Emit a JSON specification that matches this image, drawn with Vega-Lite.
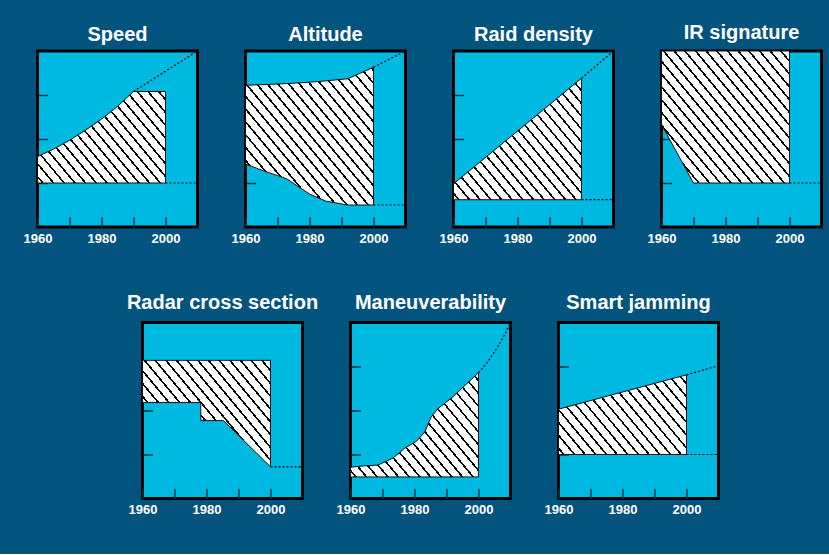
{
  "$schema": "https://vega.github.io/schema/vega-lite/v6.json",
  "background": "#02547f",
  "padding": {"left": 21.5, "top": 21, "right": 7.75, "bottom": 36},
  "bounds": "flush",
  "spacing": 271.5,
  "params": [
    {"name": "hs", "value": [
      {"offset": 0, "color": "#fff"},
      {"offset": 0.0167, "color": "#fff"}, {"offset": 0.0167, "color": "#000"}, {"offset": 0.025, "color": "#000"}, {"offset": 0.025, "color": "#fff"},
      {"offset": 0.0583, "color": "#fff"}, {"offset": 0.0583, "color": "#000"}, {"offset": 0.0667, "color": "#000"}, {"offset": 0.0667, "color": "#fff"},
      {"offset": 0.1, "color": "#fff"}, {"offset": 0.1, "color": "#000"}, {"offset": 0.1083, "color": "#000"}, {"offset": 0.1083, "color": "#fff"},
      {"offset": 0.1417, "color": "#fff"}, {"offset": 0.1417, "color": "#000"}, {"offset": 0.15, "color": "#000"}, {"offset": 0.15, "color": "#fff"},
      {"offset": 0.1833, "color": "#fff"}, {"offset": 0.1833, "color": "#000"}, {"offset": 0.1917, "color": "#000"}, {"offset": 0.1917, "color": "#fff"},
      {"offset": 0.225, "color": "#fff"}, {"offset": 0.225, "color": "#000"}, {"offset": 0.2333, "color": "#000"}, {"offset": 0.2333, "color": "#fff"},
      {"offset": 0.2667, "color": "#fff"}, {"offset": 0.2667, "color": "#000"}, {"offset": 0.275, "color": "#000"}, {"offset": 0.275, "color": "#fff"},
      {"offset": 0.3083, "color": "#fff"}, {"offset": 0.3083, "color": "#000"}, {"offset": 0.3167, "color": "#000"}, {"offset": 0.3167, "color": "#fff"},
      {"offset": 0.35, "color": "#fff"}, {"offset": 0.35, "color": "#000"}, {"offset": 0.3583, "color": "#000"}, {"offset": 0.3583, "color": "#fff"},
      {"offset": 0.3917, "color": "#fff"}, {"offset": 0.3917, "color": "#000"}, {"offset": 0.4, "color": "#000"}, {"offset": 0.4, "color": "#fff"},
      {"offset": 0.4333, "color": "#fff"}, {"offset": 0.4333, "color": "#000"}, {"offset": 0.4417, "color": "#000"}, {"offset": 0.4417, "color": "#fff"},
      {"offset": 0.475, "color": "#fff"}, {"offset": 0.475, "color": "#000"}, {"offset": 0.4833, "color": "#000"}, {"offset": 0.4833, "color": "#fff"},
      {"offset": 0.5167, "color": "#fff"}, {"offset": 0.5167, "color": "#000"}, {"offset": 0.525, "color": "#000"}, {"offset": 0.525, "color": "#fff"},
      {"offset": 0.5583, "color": "#fff"}, {"offset": 0.5583, "color": "#000"}, {"offset": 0.5667, "color": "#000"}, {"offset": 0.5667, "color": "#fff"},
      {"offset": 0.6, "color": "#fff"}, {"offset": 0.6, "color": "#000"}, {"offset": 0.6083, "color": "#000"}, {"offset": 0.6083, "color": "#fff"},
      {"offset": 0.6417, "color": "#fff"}, {"offset": 0.6417, "color": "#000"}, {"offset": 0.65, "color": "#000"}, {"offset": 0.65, "color": "#fff"},
      {"offset": 0.6833, "color": "#fff"}, {"offset": 0.6833, "color": "#000"}, {"offset": 0.6917, "color": "#000"}, {"offset": 0.6917, "color": "#fff"},
      {"offset": 0.725, "color": "#fff"}, {"offset": 0.725, "color": "#000"}, {"offset": 0.7333, "color": "#000"}, {"offset": 0.7333, "color": "#fff"},
      {"offset": 0.7667, "color": "#fff"}, {"offset": 0.7667, "color": "#000"}, {"offset": 0.775, "color": "#000"}, {"offset": 0.775, "color": "#fff"},
      {"offset": 0.8083, "color": "#fff"}, {"offset": 0.8083, "color": "#000"}, {"offset": 0.8167, "color": "#000"}, {"offset": 0.8167, "color": "#fff"},
      {"offset": 0.85, "color": "#fff"}, {"offset": 0.85, "color": "#000"}, {"offset": 0.8583, "color": "#000"}, {"offset": 0.8583, "color": "#fff"},
      {"offset": 0.8917, "color": "#fff"}, {"offset": 0.8917, "color": "#000"}, {"offset": 0.9, "color": "#000"}, {"offset": 0.9, "color": "#fff"},
      {"offset": 0.9333, "color": "#fff"}, {"offset": 0.9333, "color": "#000"}, {"offset": 0.9417, "color": "#000"}, {"offset": 0.9417, "color": "#fff"},
      {"offset": 0.975, "color": "#fff"}, {"offset": 0.975, "color": "#000"}, {"offset": 0.9833, "color": "#000"}, {"offset": 0.9833, "color": "#fff"},
      {"offset": 1, "color": "#fff"}
    ]}
  ],
  "datasets": {
    "area": [
      {"p": "Speed", "x": 1960, "lo": 1, "hi": 1.6},
      {"p": "Speed", "x": 1965, "lo": 1, "hi": 1.77},
      {"p": "Speed", "x": 1970, "lo": 1, "hi": 1.97},
      {"p": "Speed", "x": 1975, "lo": 1, "hi": 2.2},
      {"p": "Speed", "x": 1980, "lo": 1, "hi": 2.45},
      {"p": "Speed", "x": 1985, "lo": 1, "hi": 2.74},
      {"p": "Speed", "x": 1990, "lo": 1, "hi": 3.08},
      {"p": "Speed", "x": 2000, "lo": 1, "hi": 3.08},
      {"p": "Altitude", "x": 1960, "lo": 1.43, "hi": 3.22},
      {"p": "Altitude", "x": 1967, "lo": 1.24, "hi": 3.24},
      {"p": "Altitude", "x": 1970, "lo": 1.17, "hi": 3.25},
      {"p": "Altitude", "x": 1973, "lo": 1.09, "hi": 3.26},
      {"p": "Altitude", "x": 1980, "lo": 0.75, "hi": 3.29},
      {"p": "Altitude", "x": 1985, "lo": 0.59, "hi": 3.32},
      {"p": "Altitude", "x": 1992, "lo": 0.5, "hi": 3.37},
      {"p": "Altitude", "x": 2000, "lo": 0.5, "hi": 3.63},
      {"p": "Raid density", "x": 1960, "lo": 0.62, "hi": 0.98},
      {"p": "Raid density", "x": 2000, "lo": 0.62, "hi": 3.38},
      {"p": "IR signature", "x": 1960, "lo": 2.33, "hi": 4},
      {"p": "IR signature", "x": 1970, "lo": 1, "hi": 4},
      {"p": "IR signature", "x": 2000, "lo": 1, "hi": 4},
      {"p": "Radar cross section", "x": 1960, "lo": 2.18, "hi": 3.14},
      {"p": "Radar cross section", "x": 1978.2, "lo": 2.18, "hi": 3.14},
      {"p": "Radar cross section", "x": 1978.25, "lo": 1.77, "hi": 3.14},
      {"p": "Radar cross section", "x": 1985.3, "lo": 1.77, "hi": 3.14},
      {"p": "Radar cross section", "x": 2000, "lo": 0.72, "hi": 3.14},
      {"p": "Maneuverability", "x": 1960, "lo": 0.49, "hi": 0.71},
      {"p": "Maneuverability", "x": 1964, "lo": 0.49, "hi": 0.74},
      {"p": "Maneuverability", "x": 1968.6, "lo": 0.49, "hi": 0.76},
      {"p": "Maneuverability", "x": 1973.3, "lo": 0.49, "hi": 0.92},
      {"p": "Maneuverability", "x": 1976.9, "lo": 0.49, "hi": 1.14},
      {"p": "Maneuverability", "x": 1980.6, "lo": 0.49, "hi": 1.3},
      {"p": "Maneuverability", "x": 1983.2, "lo": 0.49, "hi": 1.51},
      {"p": "Maneuverability", "x": 1985.2, "lo": 0.49, "hi": 1.85},
      {"p": "Maneuverability", "x": 1987.3, "lo": 0.49, "hi": 2.04},
      {"p": "Maneuverability", "x": 1992, "lo": 0.49, "hi": 2.31},
      {"p": "Maneuverability", "x": 2000, "lo": 0.49, "hi": 2.86},
      {"p": "Smart jamming", "x": 1960, "lo": 1, "hi": 2.03},
      {"p": "Smart jamming", "x": 2000, "lo": 1, "hi": 2.81}
    ],
    "dot": [
      {"p": "Speed", "s": "up", "x": 1990, "hi": 3.08},
      {"p": "Speed", "s": "up", "x": 2010, "hi": 4},
      {"p": "Speed", "s": "lo", "x": 2000, "hi": 1},
      {"p": "Speed", "s": "lo", "x": 2010, "hi": 1},
      {"p": "Altitude", "s": "up", "x": 2000, "hi": 3.63},
      {"p": "Altitude", "s": "up", "x": 2010, "hi": 4},
      {"p": "Altitude", "s": "lo", "x": 2000, "hi": 0.5},
      {"p": "Altitude", "s": "lo", "x": 2010, "hi": 0.5},
      {"p": "Raid density", "s": "up", "x": 2000, "hi": 3.38},
      {"p": "Raid density", "s": "up", "x": 2010, "hi": 4},
      {"p": "Raid density", "s": "lo", "x": 2000, "hi": 0.62},
      {"p": "Raid density", "s": "lo", "x": 2010, "hi": 0.62},
      {"p": "IR signature", "s": "lo", "x": 2000, "hi": 1},
      {"p": "IR signature", "s": "lo", "x": 2010, "hi": 1},
      {"p": "Radar cross section", "s": "lo", "x": 2000, "hi": 0.72},
      {"p": "Radar cross section", "s": "lo", "x": 2010, "hi": 0.72},
      {"p": "Maneuverability", "s": "up", "x": 2000, "hi": 2.86},
      {"p": "Maneuverability", "s": "up", "x": 2003, "hi": 3.12},
      {"p": "Maneuverability", "s": "up", "x": 2006, "hi": 3.45},
      {"p": "Maneuverability", "s": "up", "x": 2008, "hi": 3.7},
      {"p": "Maneuverability", "s": "up", "x": 2010, "hi": 4},
      {"p": "Smart jamming", "s": "up", "x": 2000, "hi": 2.81},
      {"p": "Smart jamming", "s": "up", "x": 2010, "hi": 3.02},
      {"p": "Smart jamming", "s": "lo", "x": 2000, "hi": 1},
      {"p": "Smart jamming", "s": "lo", "x": 2010, "hi": 1}
    ]
  },
  "vconcat": [
    {
      "bounds": "flush",
      "spacing": 48,
      "hconcat": [
        {
          "title": "Speed", "width": 160, "height": 176,
          "encoding": {
            "x": {"field": "x", "type": "quantitative", "scale": {"domain": [1960, 2010], "nice": false, "zero": false}, "axis": {"title": null, "values": [1960, 1970, 1980, 1990, 2000], "format": "d", "labelExpr": "datum.value % 20 == 0 ? datum.label : ''"}},
            "y": {"field": "hi", "type": "quantitative", "scale": {"domain": [0, 4], "nice": false, "zero": false}, "axis": {"title": null, "values": [1, 2, 3], "labels": false}}
          },
          "layer": [
            {"data": {"name": "area"}, "transform": [{"filter": "datum.p == 'Speed'"}], "mark": {"type": "area", "fill": {"expr": "{gradient: 'linear', x1: 0, y1: 1, x2: 1.477, y2: 0.12, stops: hs}"}, "stroke": "#111", "strokeWidth": 1}, "encoding": {"y2": {"field": "lo"}}},
            {"data": {"name": "dot"}, "transform": [{"filter": "datum.p == 'Speed'"}], "mark": {"type": "line", "stroke": "#000", "strokeWidth": 1.2, "strokeDash": [2, 2], "clip": true}, "encoding": {"detail": {"field": "s"}}}
          ]
        },
        {
          "title": "Altitude", "width": 160, "height": 176,
          "encoding": {
            "x": {"field": "x", "type": "quantitative", "scale": {"domain": [1960, 2010], "nice": false, "zero": false}, "axis": {"title": null, "values": [1960, 1970, 1980, 1990, 2000], "format": "d", "labelExpr": "datum.value % 20 == 0 ? datum.label : ''"}},
            "y": {"field": "hi", "type": "quantitative", "scale": {"domain": [0, 4], "nice": false, "zero": false}, "axis": {"title": null, "values": [1, 2, 3], "labels": false}}
          },
          "layer": [
            {"data": {"name": "area"}, "transform": [{"filter": "datum.p == 'Altitude'"}], "mark": {"type": "area", "fill": {"expr": "{gradient: 'linear', x1: 0, y1: 1, x2: 1.109, y2: 0.005, stops: hs}"}, "stroke": "#111", "strokeWidth": 1}, "encoding": {"y2": {"field": "lo"}}},
            {"data": {"name": "dot"}, "transform": [{"filter": "datum.p == 'Altitude'"}], "mark": {"type": "line", "stroke": "#000", "strokeWidth": 1.2, "strokeDash": [2, 2], "clip": true}, "encoding": {"detail": {"field": "s"}}}
          ]
        },
        {
          "title": "Raid density", "width": 160, "height": 176,
          "encoding": {
            "x": {"field": "x", "type": "quantitative", "scale": {"domain": [1960, 2010], "nice": false, "zero": false}, "axis": {"title": null, "values": [1960, 1970, 1980, 1990, 2000], "format": "d", "labelExpr": "datum.value % 20 == 0 ? datum.label : ''"}},
            "y": {"field": "hi", "type": "quantitative", "scale": {"domain": [0, 4], "nice": false, "zero": false}, "axis": {"title": null, "values": [1, 2, 3], "labels": false}}
          },
          "layer": [
            {"data": {"name": "area"}, "transform": [{"filter": "datum.p == 'Raid density'"}], "mark": {"type": "area", "fill": {"expr": "{gradient: 'linear', x1: 0, y1: 1, x2: 1.232, y2: 0.027, stops: hs}"}, "stroke": "#111", "strokeWidth": 1}, "encoding": {"y2": {"field": "lo"}}},
            {"data": {"name": "dot"}, "transform": [{"filter": "datum.p == 'Raid density'"}], "mark": {"type": "line", "stroke": "#000", "strokeWidth": 1.2, "strokeDash": [2, 2], "clip": true}, "encoding": {"detail": {"field": "s"}}}
          ]
        },
        {
          "title": "IR signature", "width": 160, "height": 176,
          "encoding": {
            "x": {"field": "x", "type": "quantitative", "scale": {"domain": [1960, 2010], "nice": false, "zero": false}, "axis": {"title": null, "values": [1960, 1970, 1980, 1990, 2000], "format": "d", "labelExpr": "datum.value % 20 == 0 ? datum.label : ''"}},
            "y": {"field": "hi", "type": "quantitative", "scale": {"domain": [0, 4], "nice": false, "zero": false}, "axis": {"title": null, "values": [1, 2, 3], "labels": false}}
          },
          "layer": [
            {"data": {"name": "area"}, "transform": [{"filter": "datum.p == 'IR signature'"}], "mark": {"type": "area", "fill": {"expr": "{gradient: 'linear', x1: 0, y1: 1, x2: 1.151, y2: 0.011, stops: hs}"}, "stroke": "#111", "strokeWidth": 1}, "encoding": {"y2": {"field": "lo"}}},
            {"data": {"name": "dot"}, "transform": [{"filter": "datum.p == 'IR signature'"}], "mark": {"type": "line", "stroke": "#000", "strokeWidth": 1.2, "strokeDash": [2, 2], "clip": true}, "encoding": {"detail": {"field": "s"}}}
          ]
        }
      ]
    },
    {
      "bounds": "flush",
      "spacing": 48,
      "hconcat": [
        {
          "width": 56.7, "height": 176,
          "data": {"values": [{}]},
          "mark": {"type": "text", "text": ""},
          "view": {"fill": null, "stroke": null}
        },
        {
          "title": {"text": "Radar cross section", "offset": 9.5}, "width": 160, "height": 176,
          "encoding": {
            "x": {"field": "x", "type": "quantitative", "scale": {"domain": [1960, 2010], "nice": false, "zero": false}, "axis": {"title": null, "values": [1960, 1970, 1980, 1990, 2000], "format": "d", "labelExpr": "datum.value % 20 == 0 ? datum.label : ''"}},
            "y": {"field": "hi", "type": "quantitative", "scale": {"domain": [0, 4], "nice": false, "zero": false}, "axis": {"title": null, "values": [1, 2, 3], "labels": false}}
          },
          "layer": [
            {"data": {"name": "area"}, "transform": [{"filter": "datum.p == 'Radar cross section'"}], "mark": {"type": "area", "fill": {"expr": "{gradient: 'linear', x1: 0, y1: 1, x2: 1.352, y2: 0.063, stops: hs}"}, "stroke": "#111", "strokeWidth": 1}, "encoding": {"y2": {"field": "lo"}}},
            {"data": {"name": "dot"}, "transform": [{"filter": "datum.p == 'Radar cross section'"}], "mark": {"type": "line", "stroke": "#000", "strokeWidth": 1.2, "strokeDash": [2, 2], "clip": true}, "encoding": {"detail": {"field": "s"}}}
          ]
        },
        {
          "title": {"text": "Maneuverability", "offset": 9.5}, "width": 160, "height": 176,
          "encoding": {
            "x": {"field": "x", "type": "quantitative", "scale": {"domain": [1960, 2010], "nice": false, "zero": false}, "axis": {"title": null, "values": [1960, 1970, 1980, 1990, 2000], "format": "d", "labelExpr": "datum.value % 20 == 0 ? datum.label : ''"}},
            "y": {"field": "hi", "type": "quantitative", "scale": {"domain": [0, 4], "nice": false, "zero": false}, "axis": {"title": null, "values": [1, 2, 3], "labels": false}}
          },
          "layer": [
            {"data": {"name": "area"}, "transform": [{"filter": "datum.p == 'Maneuverability'"}], "mark": {"type": "area", "fill": {"expr": "{gradient: 'linear', x1: 0, y1: 1, x2: 1.37, y2: 0.07, stops: hs}"}, "stroke": "#111", "strokeWidth": 1}, "encoding": {"y2": {"field": "lo"}}},
            {"data": {"name": "dot"}, "transform": [{"filter": "datum.p == 'Maneuverability'"}], "mark": {"type": "line", "stroke": "#000", "strokeWidth": 1.2, "strokeDash": [2, 2], "interpolate": "monotone", "clip": true}, "encoding": {"detail": {"field": "s"}}}
          ]
        },
        {
          "title": {"text": "Smart jamming", "offset": 9.5}, "width": 160, "height": 176,
          "encoding": {
            "x": {"field": "x", "type": "quantitative", "scale": {"domain": [1960, 2010], "nice": false, "zero": false}, "axis": {"title": null, "values": [1960, 1970, 1980, 1990, 2000], "format": "d", "labelExpr": "datum.value % 20 == 0 ? datum.label : ''"}},
            "y": {"field": "hi", "type": "quantitative", "scale": {"domain": [0, 4], "nice": false, "zero": false}, "axis": {"title": null, "values": [1, 2, 3], "labels": false}}
          },
          "layer": [
            {"data": {"name": "area"}, "transform": [{"filter": "datum.p == 'Smart jamming'"}], "mark": {"type": "area", "fill": {"expr": "{gradient: 'linear', x1: 0, y1: 1, x2: 1.578, y2: 0.183, stops: hs}"}, "stroke": "#111", "strokeWidth": 1}, "encoding": {"y2": {"field": "lo"}}},
            {"data": {"name": "dot"}, "transform": [{"filter": "datum.p == 'Smart jamming'"}], "mark": {"type": "line", "stroke": "#000", "strokeWidth": 1.2, "strokeDash": [2, 2], "clip": true}, "encoding": {"detail": {"field": "s"}}}
          ]
        }
      ]
    }
  ],
  "config": {
    "view": {"fill": "#00b9e0", "stroke": "#000", "strokeWidth": 3},
    "axis": {"domain": false, "grid": false, "ticks": true, "tickSize": -10, "tickColor": "#0a2e48", "tickWidth": 1.5, "labelFont": "Liberation Sans", "labelFontSize": 13, "labelFontWeight": "bold", "labelColor": "#ffffff", "labelFlush": false, "labelOverlap": false, "labelPadding": 15, "zindex": 1},
    "title": {"font": "Liberation Sans", "fontSize": 20, "fontWeight": "bold", "color": "#ffffff", "offset": 6, "baseline": "alphabetic", "frame": "group", "anchor": "middle"}
  }
}
